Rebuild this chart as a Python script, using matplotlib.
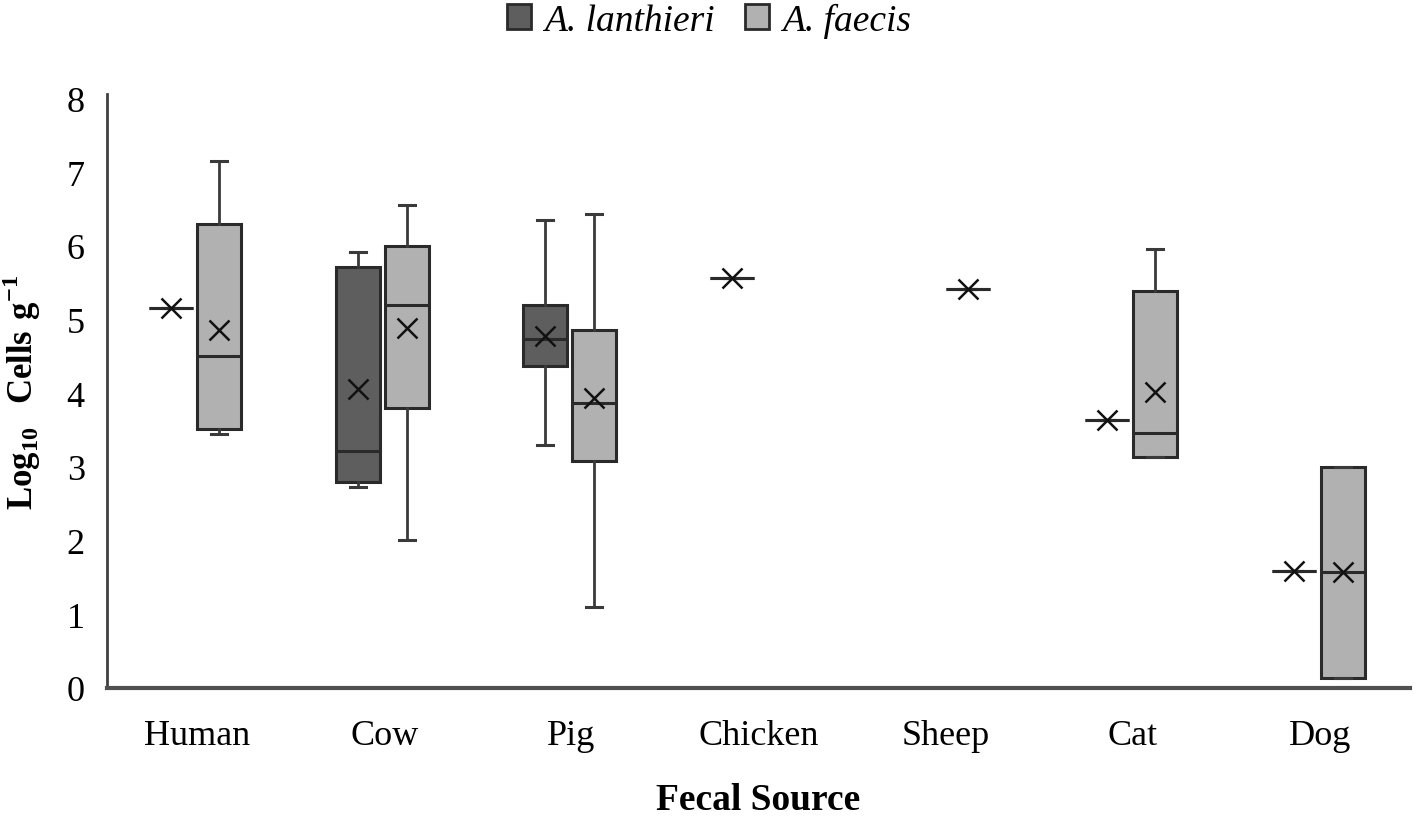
import numpy as np
import matplotlib
matplotlib.use("Agg")
import matplotlib.pyplot as plt
from matplotlib.patches import Patch

plt.rcParams['font.family'] = ['Liberation Serif', 'DejaVu Serif']
plt.rcParams['mathtext.fontset'] = 'custom'
plt.rcParams['mathtext.rm'] = 'Liberation Serif'
plt.rcParams['mathtext.bf'] = 'Liberation Serif:bold'

nan = np.nan
categories = ["Human", "Cow", "Pig", "Chicken", "Sheep", "Cat", "Dog"]
series_names = ["A. lanthieri", "A. faecis"]

lan_min = [5.15, 2.72, 3.29, 5.56, nan, 3.64, 1.59]
lan_q1 = [5.15, 2.80, 4.37, 5.56, nan, 3.64, 1.59]
lan_med = [5.15, 3.21, 4.74, 5.56, nan, 3.64, 1.59]
lan_q3 = [5.15, 5.71, 5.20, 5.56, nan, 3.64, 1.59]
lan_max = [5.15, 5.92, 6.35, 5.56, nan, 3.64, 1.59]
lan_mean = [5.15, 4.05, 4.77, 5.56, nan, 3.64, 1.59]

fae_min = [3.44, 2.01, 1.10, nan, 5.41, 3.13, 0.14]
fae_q1 = [3.52, 3.80, 3.08, nan, 5.41, 3.14, 0.14]
fae_med = [4.50, 5.19, 3.86, nan, 5.41, 3.46, 1.58]
fae_q3 = [6.30, 5.99, 4.86, nan, 5.41, 5.39, 3.00]
fae_max = [7.15, 6.55, 6.43, nan, 5.41, 5.96, 3.00]
fae_mean = [4.85, 4.88, 3.94, nan, 5.41, 4.01, 1.58]

y_ticks = [0, 1, 2, 3, 4, 5, 6, 7, 8]

series = [
    (lan_min, lan_q1, lan_med, lan_q3, lan_max, lan_mean),
    (fae_min, fae_q1, fae_med, fae_q3, fae_max, fae_mean),
]
fills = ["#5e5e5e", "#b1b1b1"]
offsets = [-0.14, 0.12]
box_w = 0.235

fig = plt.figure(figsize=(14.18, 8.2), dpi=100)
ax = fig.add_axes([0.0755, 0.1598, 0.9189, 0.7245])

for s, (mn, q1, md, q3, mx, me) in enumerate(series):
    stats, pos = [], []
    for i in range(len(categories)):
        if np.isnan(md[i]):
            continue
        stats.append(dict(whislo=mn[i], q1=q1[i], med=md[i], q3=q3[i],
                          whishi=mx[i], mean=me[i], fliers=[]))
        pos.append(i + offsets[s])
    ax.bxp(stats, positions=pos, widths=box_w, patch_artist=True,
           showmeans=True, showfliers=False,
           boxprops=dict(facecolor=fills[s], edgecolor="#2a2a2a", linewidth=2.2),
           medianprops=dict(color="#2a2a2a", linewidth=2.2),
           whiskerprops=dict(color="#3a3a3a", linewidth=2.0),
           capprops=dict(color="#3a3a3a", linewidth=2.2),
           capwidths=0.085,
           meanprops=dict(marker="x", markeredgecolor="#111111",
                          markerfacecolor="none", markersize=15,
                          markeredgewidth=1.8),
           manage_ticks=False, zorder=3)

ax.set_xlim(-0.48, len(categories) - 0.52)
ax.set_ylim(0, 8.06)
ax.set_xticks(range(len(categories)))
ax.set_xticklabels(categories, fontsize=26)
ax.set_yticks(y_ticks)
ax.set_yticklabels([str(t) for t in y_ticks], fontsize=26)
ax.tick_params(axis='x', length=0, pad=22)
ax.tick_params(axis='y', length=0, pad=16)

for sp in ["top", "right"]:
    ax.spines[sp].set_visible(False)
ax.spines["left"].set_color("#404040")
ax.spines["left"].set_linewidth(2.0)
ax.spines["bottom"].set_color("#505050")
ax.spines["bottom"].set_linewidth(3.0)

ax.set_xlabel("Fecal Source", fontsize=27, fontweight="bold")
ax.xaxis.set_label_coords(0.5, -0.158)
ax.set_ylabel(r"$\mathbf{Log}_{\mathbf{10}}\ \ \mathbf{Cells\ g}^{\mathbf{-1}}$",
              fontsize=25)
ax.yaxis.set_label_coords(-0.049, 0.5)

handles = [Patch(facecolor=fills[k], edgecolor="#2a2a2a", linewidth=2.0)
           for k in range(2)]
fig.legend(handles, series_names, loc="upper center", bbox_to_anchor=(0.5, 1.037),
           ncol=2, frameon=False, prop=dict(family="Liberation Serif", style="italic", size=27),
           handlelength=0.65, handleheight=0.65, handletextpad=0.35, columnspacing=0.8)

fig.savefig("out.png", dpi=100)
